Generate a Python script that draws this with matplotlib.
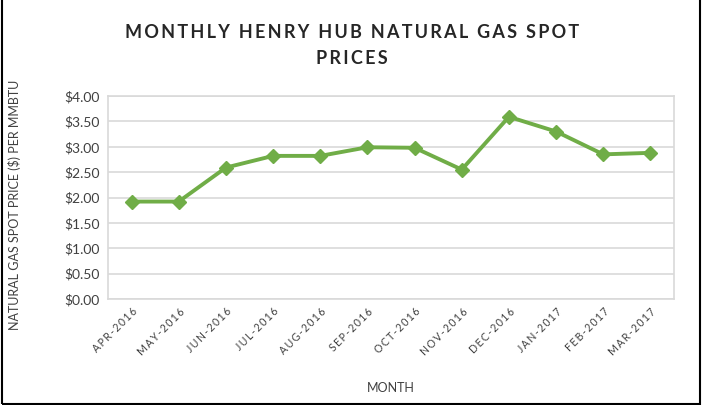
import matplotlib.pyplot as plt
from matplotlib.patches import Rectangle

# monthly Henry Hub spot prices, $/MMBtu
months = ['APR-2016', 'MAY-2016', 'JUN-2016', 'JUL-2016', 'AUG-2016', 'SEP-2016',
          'OCT-2016', 'NOV-2016', 'DEC-2016', 'JAN-2017', 'FEB-2017', 'MAR-2017']
prices = [1.92, 1.92, 2.59, 2.82, 2.82, 2.99, 2.98, 2.55, 3.59, 3.30, 2.85, 2.88]
y_ticks = [0.0, 0.5, 1.0, 1.5, 2.0, 2.5, 3.0, 3.5, 4.0]

plt.rcParams['font.family'] = ['Lato', 'DejaVu Sans']

TS = '\u2009'  # thin space used for letter spacing


def spaced(s, sep=TS):
    return sep.join(s)


fig = plt.figure(figsize=(7.02, 4.05), dpi=100)
W, H = 702, 405
ax = fig.add_axes([108 / W, 1 - 299 / H, (674 - 108) / W, (299 - 96) / H])

x = list(range(len(months)))
ax.plot(x, prices, color='#70AD47', linewidth=2.8, marker='D', markersize=7,
        markeredgecolor='#70AD47', zorder=3)

ax.set_xlim(-0.5, len(months) - 0.5)
ax.set_ylim(0, 4)
ax.set_yticks(y_ticks)
ax.set_yticklabels(['${:.2f}'.format(v) for v in y_ticks], fontsize=10, color='#404040')
ax.yaxis.grid(True, color='#d9d9d9', linewidth=1.2)
ax.set_axisbelow(True)
ax.tick_params(axis='both', length=0, pad=6)
for s in ax.spines.values():
    s.set_color('#d9d9d9')
    s.set_linewidth(1.2)

ax.set_xticks(x)
ax.set_xticklabels([spaced(m) for m in months], rotation=45, ha='right',
                   rotation_mode='anchor', fontsize=7.6, color='#404040')
ax.tick_params(axis='x', pad=5)

ax.set_xlabel('MONTH', fontsize=9, color='#404040', labelpad=18)
fig.text(15 / W, 1 - 205 / H, 'NATURAL GAS SPOT PRICE ($) PER MMBTU', rotation=90,
         ha='center', va='center', fontsize=9, color='#404040')

fig.text(352 / W, 1 - 33 / H, spaced('MONTHLY HENRY HUB NATURAL GAS SPOT'),
         ha='center', va='center', fontsize=13, fontweight='bold', color='#262626')
fig.text(352 / W, 1 - 59 / H, spaced('PRICES'), ha='center', va='center',
         fontsize=13, fontweight='bold', color='#262626')

# outer frame
fig.patches.append(Rectangle((2 / W, 0.003), 698 / W, 1.1, transform=fig.transFigure,
                             fill=False, edgecolor='black', linewidth=1.5))

fig.savefig('out.png', dpi=100)
